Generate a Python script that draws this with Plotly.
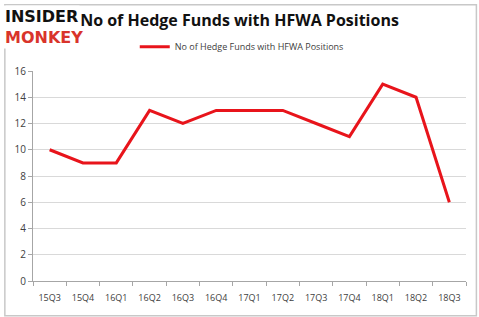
import plotly.graph_objects as go

quarters = ["15Q3", "15Q4", "16Q1", "16Q2", "16Q3", "16Q4", "17Q1", "17Q2", "17Q3", "17Q4", "18Q1", "18Q2", "18Q3"]
funds = [10, 9, 9, 13, 12, 13, 13, 13, 12, 11, 15, 14, 6]
series_name = "No of Hedge Funds with HFWA Positions"
y_ticks = [0, 2, 4, 6, 8, 10, 12, 14, 16]

fig = go.Figure()
fig.add_trace(go.Scatter(
    x=quarters, y=funds, mode="lines", name=series_name,
    line=dict(color="#e8141b", width=3),
))

fig.update_layout(
    width=479, height=317,
    margin=dict(l=33, r=13, t=71, b=36),
    paper_bgcolor="white", plot_bgcolor="white",
    title=dict(text="No of Hedge Funds with HFWA Positions", x=0.5, xanchor="center",
               y=0.935, yanchor="middle",
               font=dict(family="Open Sans", size=16, color="#111111", weight="bold")),
    showlegend=True,
    legend=dict(x=0.235, xanchor="left", y=1.115, yanchor="middle", orientation="h",
                font=dict(family="Open Sans", size=9, color="#404040"),
                bgcolor="rgba(0,0,0,0)"),
    xaxis=dict(type="category", showgrid=False, showline=True, linecolor="#a6a6a6",
               ticks="outside", ticklen=4, tickcolor="#a6a6a6",
               tickson="boundaries", ticklabelstandoff=8,
               tickfont=dict(family="Open Sans", size=9, color="#404040"),
               range=[-0.5, 12.5]),
    yaxis=dict(range=[0, 16], tickvals=y_ticks, showgrid=True, gridcolor="#d9d9d9",
               showline=True, linecolor="#a6a6a6", ticks="outside", ticklen=4,
               tickcolor="#a6a6a6", zeroline=False,
               tickfont=dict(family="Open Sans", size=10, color="#404040")),
    shapes=[dict(type="rect", xref="paper", yref="paper", x0=-0.065, x1=1.024, y0=-0.165, y1=1.315,
                 line=dict(color="#c8c8c8", width=1.5), fillcolor="rgba(0,0,0,0)", layer="below")],
    annotations=[
        dict(text="INSIDER", xref="paper", yref="paper", x=-0.07, y=1.315, xanchor="left", yanchor="top",
             showarrow=False, bgcolor="white",
             font=dict(family="DejaVu Sans", size=16, color="#111111", weight="bold")),
        dict(text="MONKEY", xref="paper", yref="paper", x=-0.07, y=1.215, xanchor="left", yanchor="top",
             showarrow=False, bgcolor="white",
             font=dict(family="DejaVu Sans", size=16, color="#d9342b", weight="bold")),
    ],
)

fig.write_html("out.html")
